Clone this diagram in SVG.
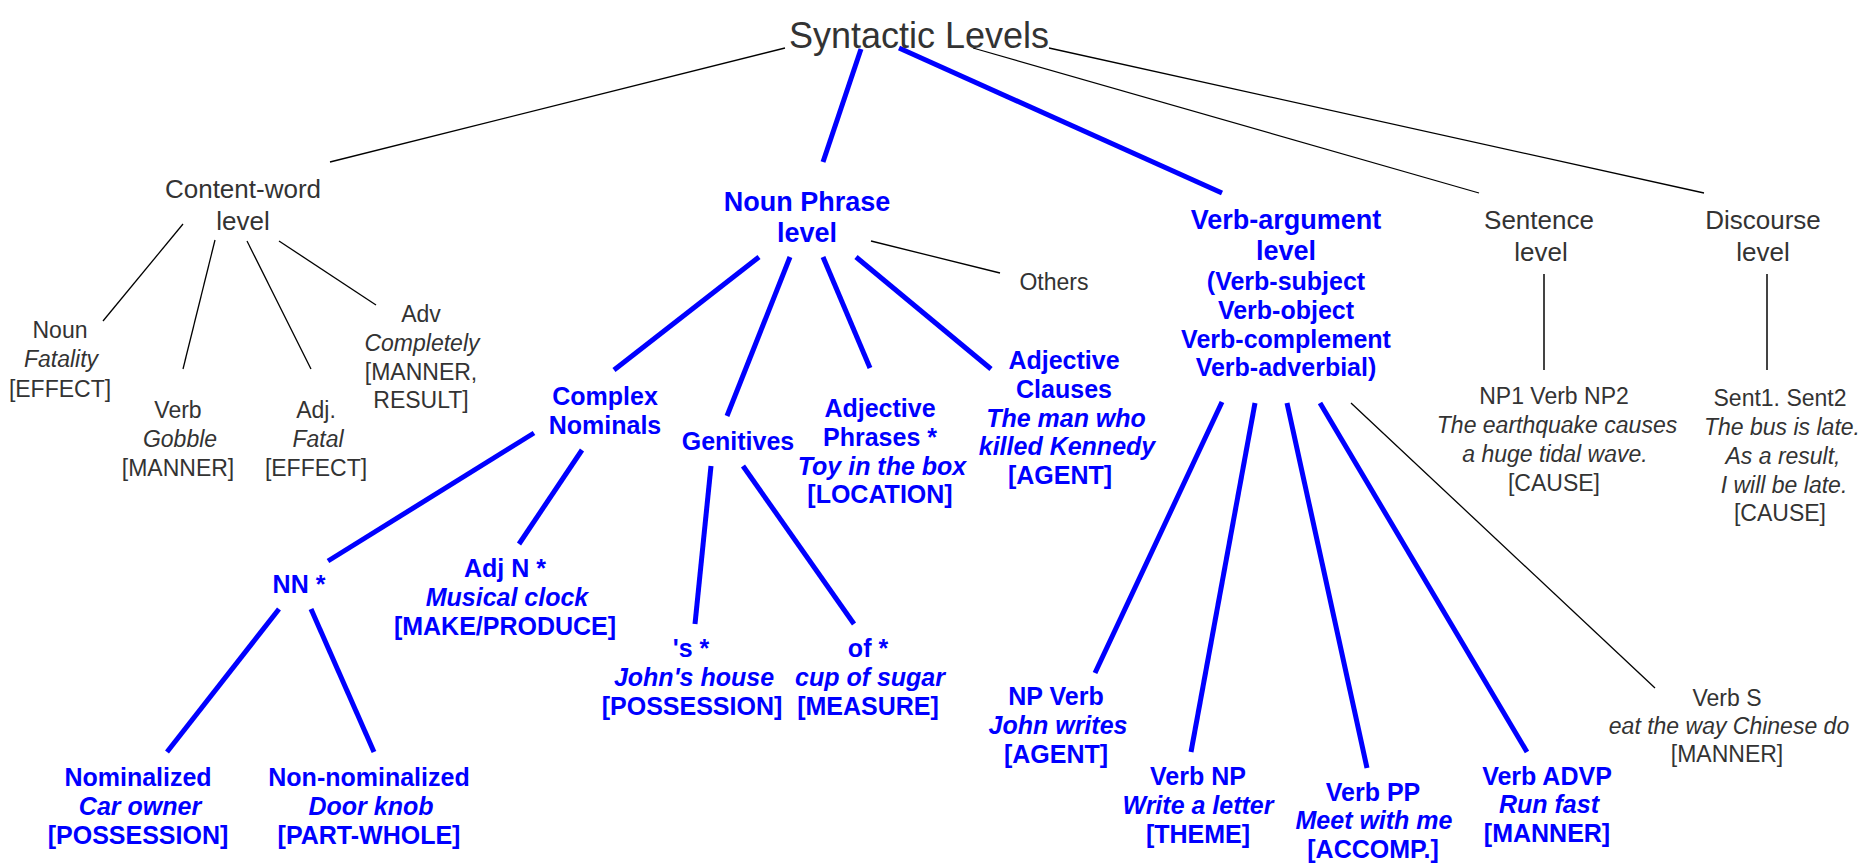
<svg xmlns="http://www.w3.org/2000/svg" width="1874" height="865" viewBox="0 0 1874 865">
<style>
text{font-family:"Liberation Sans",Arial,sans-serif;text-anchor:middle}
.k{fill:#333}
.kt{font-size:26px}
.kl{font-size:23px}
.b{fill:#0000ff;font-weight:bold;font-size:25px}
.bt{font-size:27px}
.i{font-style:italic}
.root{font-size:36px;fill:#333}
.thin{stroke:#000;stroke-width:1.3;fill:none}
.blue{stroke:#0000ff;stroke-width:5;fill:none}
.gray{stroke:#444;stroke-width:2;fill:none}
</style>
<rect width="1874" height="865" fill="#fff"/>
<g id="connectors">
<line class="thin" x1="785" y1="48" x2="330" y2="162"/>
<line class="blue" x1="861" y1="49" x2="823" y2="162"/>
<line class="blue" x1="899" y1="48" x2="1222" y2="193" stroke-width="5.5"/>
<line class="thin" x1="973" y1="48" x2="1479" y2="193"/>
<line class="thin" x1="1049" y1="48" x2="1704" y2="193"/>
<line class="thin" x1="183" y1="224" x2="103" y2="321"/>
<line class="thin" x1="215" y1="240" x2="183" y2="369"/>
<line class="thin" x1="247" y1="241" x2="311" y2="369"/>
<line class="thin" x1="279" y1="241" x2="376" y2="305"/>
<line class="blue" x1="759" y1="257" x2="614" y2="370"/>
<line class="blue" x1="790" y1="257" x2="727" y2="416"/>
<line class="blue" x1="823" y1="257" x2="870" y2="368"/>
<line class="blue" x1="856" y1="257" x2="991" y2="369"/>
<line class="thin" x1="871" y1="241" x2="1000" y2="273"/>
<line class="blue" x1="534" y1="433" x2="328" y2="561"/>
<line class="blue" x1="582" y1="450" x2="519" y2="544"/>
<line class="blue" x1="279" y1="609" x2="167" y2="752"/>
<line class="blue" x1="311" y1="609" x2="374" y2="752"/>
<line class="blue" x1="711" y1="466" x2="695" y2="624"/>
<line class="blue" x1="743" y1="466" x2="854" y2="624"/>
<line class="blue" x1="1222" y1="402" x2="1095" y2="673"/>
<line class="blue" x1="1255" y1="403" x2="1191" y2="752"/>
<line class="blue" x1="1287" y1="403" x2="1367" y2="768"/>
<line class="blue" x1="1320" y1="403" x2="1527" y2="752"/>
<line class="thin" x1="1351" y1="403" x2="1655" y2="688"/>
<line class="gray" x1="1544" y1="274" x2="1544" y2="370"/>
<line class="gray" x1="1767" y1="274" x2="1767" y2="370"/>
</g>
<g id="root"><text class="root" x="919" y="48">Syntactic Levels</text></g>
<g id="content-word" class="k kt"><text class="k kt" x="243" y="198">Content-word</text><text class="k kt" x="243" y="230">level</text></g>
<g id="noun"><text class="k kl" x="60" y="338">Noun</text><text class="k kl i" x="61" y="367">Fatality</text><text class="k kl" x="60" y="397">[EFFECT]</text></g>
<g id="verb"><text class="k kl" x="178" y="418">Verb</text><text class="k kl i" x="180" y="447">Gobble</text><text class="k kl" x="178" y="476">[MANNER]</text></g>
<g id="adj"><text class="k kl" x="316" y="418">Adj.</text><text class="k kl i" x="318" y="447">Fatal</text><text class="k kl" x="316" y="476">[EFFECT]</text></g>
<g id="adv"><text class="k kl" x="421" y="322">Adv</text><text class="k kl i" x="422" y="351">Completely</text><text class="k kl" x="421" y="380">[MANNER,</text><text class="k kl" x="421" y="408">RESULT]</text></g>
<g id="noun-phrase"><text class="b bt" x="807" y="211">Noun Phrase</text><text class="b bt" x="807" y="242">level</text></g>
<g id="others"><text class="k kl" x="1054" y="290">Others</text></g>
<g id="complex-nominals"><text class="b" x="605" y="405">Complex</text><text class="b" x="605" y="434">Nominals</text></g>
<g id="genitives"><text class="b" x="738" y="450">Genitives</text></g>
<g id="adjective-phrases"><text class="b" x="880" y="417">Adjective</text><text class="b" x="880" y="446">Phrases *</text><text class="b i" x="882" y="475">Toy in the box</text><text class="b" x="880" y="503">[LOCATION]</text></g>
<g id="adjective-clauses"><text class="b" x="1064" y="369">Adjective</text><text class="b" x="1064" y="398">Clauses</text><text class="b i" x="1066" y="427">The man who</text><text class="b i" x="1067" y="455">killed Kennedy</text><text class="b" x="1060" y="484">[AGENT]</text></g>
<g id="nn"><text class="b" x="299" y="593">NN *</text></g>
<g id="adj-n"><text class="b" x="505" y="577">Adj N *</text><text class="b i" x="507" y="606">Musical clock</text><text class="b" x="505" y="635">[MAKE/PRODUCE]</text></g>
<g id="nominalized"><text class="b" x="138" y="786">Nominalized</text><text class="b i" x="140" y="815">Car owner</text><text class="b" x="138" y="844">[POSSESSION]</text></g>
<g id="non-nominalized"><text class="b" x="369" y="786">Non-nominalized</text><text class="b i" x="371" y="815">Door knob</text><text class="b" x="369" y="844">[PART-WHOLE]</text></g>
<g id="s-genitive"><text class="b" x="691" y="657">'s *</text><text class="b i" x="694" y="686">John's house</text><text class="b" x="692" y="715">[POSSESSION]</text></g>
<g id="of-genitive"><text class="b" x="868" y="657">of *</text><text class="b i" x="870" y="686">cup of sugar</text><text class="b" x="868" y="715">[MEASURE]</text></g>
<g id="verb-argument"><text class="b bt" x="1286" y="229">Verb-argument</text><text class="b bt" x="1286" y="260">level</text><text class="b" x="1286" y="290">(Verb-subject</text><text class="b" x="1286" y="319">Verb-object</text><text class="b" x="1286" y="348">Verb-complement</text><text class="b" x="1286" y="376">Verb-adverbial)</text></g>
<g id="np-verb"><text class="b" x="1056" y="705">NP Verb</text><text class="b i" x="1058" y="734">John writes</text><text class="b" x="1056" y="763">[AGENT]</text></g>
<g id="verb-np"><text class="b" x="1198" y="785">Verb NP</text><text class="b i" x="1198" y="814">Write a letter</text><text class="b" x="1198" y="843">[THEME]</text></g>
<g id="verb-pp"><text class="b" x="1373" y="801">Verb PP</text><text class="b i" x="1374" y="829">Meet with me</text><text class="b" x="1373" y="858">[ACCOMP.]</text></g>
<g id="verb-advp"><text class="b" x="1547" y="785">Verb ADVP</text><text class="b i" x="1549" y="813">Run fast</text><text class="b" x="1547" y="842">[MANNER]</text></g>
<g id="verb-s"><text class="k kl" x="1727" y="706">Verb S</text><text class="k kl i" x="1729" y="734">eat the way Chinese do</text><text class="k kl" x="1727" y="762">[MANNER]</text></g>
<g id="sentence"><text class="k kt" x="1539" y="229">Sentence</text><text class="k kt" x="1541" y="261">level</text></g>
<g id="discourse"><text class="k kt" x="1763" y="229">Discourse</text><text class="k kt" x="1763" y="261">level</text></g>
<g id="np1-verb-np2"><text class="k kl" x="1554" y="404">NP1 Verb NP2</text><text class="k kl i" x="1557" y="433">The earthquake causes</text><text class="k kl i" x="1555" y="462">a huge tidal wave.</text><text class="k kl" x="1554" y="491">[CAUSE]</text></g>
<g id="sent1-sent2"><text class="k kl" x="1780" y="406">Sent1. Sent2</text><text class="k kl i" x="1782" y="435">The bus is late.</text><text class="k kl i" x="1783" y="464">As a result,</text><text class="k kl i" x="1784" y="493">I will be late.</text><text class="k kl" x="1780" y="521">[CAUSE]</text></g>
</svg>
